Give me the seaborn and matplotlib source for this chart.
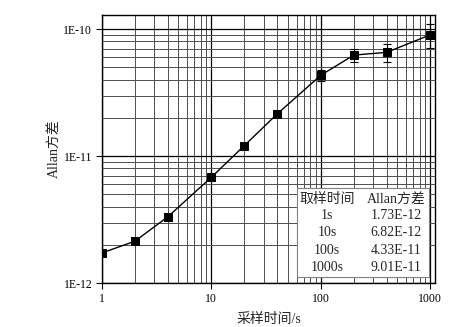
import numpy as np
import pandas as pd
import matplotlib
matplotlib.use("Agg")
import matplotlib.pyplot as plt
import matplotlib.ticker as mticker
from matplotlib.patches import Rectangle
import seaborn as sns

# data
tau = [1, 2, 4, 10, 20, 40, 100, 200, 400, 1000]
adev = [1.73e-12, 2.14e-12, 3.33e-12, 6.82e-12, 1.21e-11, 2.15e-11,
        4.33e-11, 6.24e-11, 6.56e-11, 9.01e-11]
err = [0, 0, 0, 0, 0, 0, 4.0e-12, 7.0e-12, 1.1e-11, 1.9e-11]
x_ticks = [1, 10, 100, 1000]
x_tick_labels = ["1", "10", "100", "1000"]
y_ticks = [1e-12, 1e-11, 1e-10]
y_tick_labels = ["1E-12", "1E-11", "1E-10"]
table_header = ["取样时间", "Allan方差"]
table_tau = ["1s", "10s", "100s", "1000s"]
table_val = ["1.73E-12", "6.82E-12", "4.33E-11", "9.01E-11"]

sns.set_theme(style="white")
fam = ["Liberation Serif", "Noto Sans CJK SC", "DejaVu Sans"]
plt.rcParams["font.family"] = fam

df = pd.DataFrame({"tau": tau, "adev": adev, "err": err})

fig = plt.figure(figsize=(4.72, 3.27), dpi=100)
ax = fig.add_axes([0.216, 0.134, 0.706, 0.820])

ax.set_xscale("log")
ax.set_yscale("log")
ax.set_xlim(1, 1110)
ax.set_ylim(1e-12, 1.29e-10)

# grid
ax.xaxis.set_minor_locator(mticker.LogLocator(base=10, subs=np.arange(2, 10)))
ax.yaxis.set_minor_locator(mticker.LogLocator(base=10, subs=np.arange(2, 10)))
ax.grid(True, which="major", color="black", lw=0.9)
ax.grid(True, which="minor", color="0.3", lw=0.7)
ax.set_axisbelow(True)

mask = df["err"] > 0
ax.errorbar(df.loc[mask, "tau"], df.loc[mask, "adev"], yerr=df.loc[mask, "err"],
            fmt="none", ecolor="black", elinewidth=0.8, capsize=3, capthick=0.8, zorder=3)
sns.lineplot(data=df, x="tau", y="adev", ax=ax, color="black", lw=1.0,
             marker="s", markersize=5.5, markeredgecolor="black",
             markerfacecolor="black", zorder=4)

ax.set_xticks(x_ticks)
ax.set_xticklabels(x_tick_labels)
ax.set_yticks(y_ticks)
ax.set_yticklabels(y_tick_labels)
ax.tick_params(axis="both", which="major", direction="out", length=4, width=0.8,
               labelsize=8.5, colors="black", left=True, bottom=True, pad=3)
ax.tick_params(axis="both", which="minor", length=0)
for s in ax.spines.values():
    s.set_color("black")
    s.set_linewidth(1.0)

ax.set_xlabel("采样时间/s", fontsize=10, labelpad=6)
ax.set_ylabel("Allan方差", fontsize=10, labelpad=2)

# inset table
ax.add_patch(Rectangle((0.586, 0.022), 0.394, 0.332, transform=ax.transAxes,
                       facecolor="white", edgecolor="0.5", lw=0.8, zorder=5))
c1, c2 = 0.676, 0.883
ax.text(c1, 0.313, table_header[0], transform=ax.transAxes, ha="center", va="center",
        fontsize=10, zorder=6)
ax.text(c2, 0.313, table_header[1], transform=ax.transAxes, ha="center", va="center",
        fontsize=10, zorder=6)
rows_y = [0.254, 0.19, 0.123, 0.06]
for yy, t, v in zip(rows_y, table_tau, table_val):
    ax.text(c1, yy, t, transform=ax.transAxes, ha="center", va="center", fontsize=10, zorder=6)
    ax.text(c2, yy, v, transform=ax.transAxes, ha="center", va="center", fontsize=10, zorder=6)

fig.savefig("out.png", dpi=100)
